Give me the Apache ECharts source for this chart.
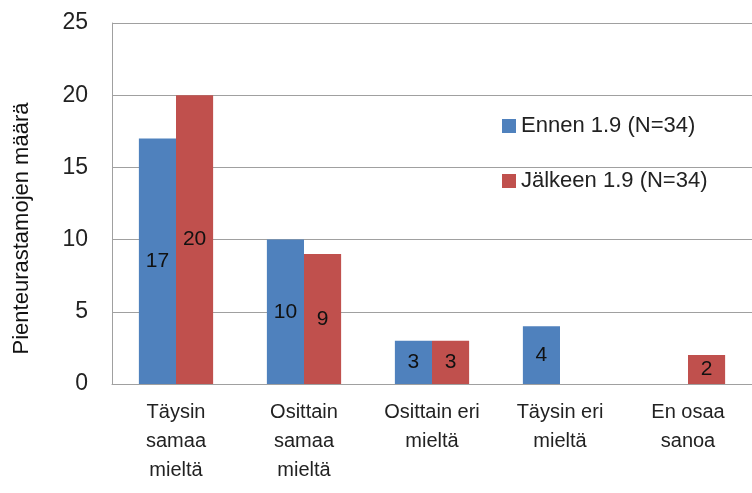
<!DOCTYPE html>
<html>
<head>
<meta charset="utf-8">
<script src="https://cdn.jsdelivr.net/npm/echarts@6/dist/echarts.min.js"></script>
<style>
  html, body { margin: 0; padding: 0; background: #fff; }
  #chart { width: 752px; height: 493px; }
</style>
</head>
<body>
<div id="chart"></div>
<script>
// kategoriat ja arvot
var categories = ['Täysin\nsamaa\nmieltä', 'Osittain\nsamaa\nmieltä', 'Osittain eri\nmieltä', 'Täysin eri\nmieltä', 'En osaa\nsanoa'];
var ennen = [17, 10, 3, 4, 0];
var jalkeen = [20, 9, 3, 0, 2];
var seriesNames = ['Ennen 1.9 (N=34)', 'Jälkeen 1.9 (N=34)'];
var yTicks = { min: 0, max: 25, interval: 5 };

var font = "'Liberation Sans', 'DejaVu Sans', sans-serif";

function initChart() {
    var chart = echarts.init(document.getElementById('chart'));

    var barLabel = {
        show: true,
        position: 'inside',
        color: '#111',
        fontSize: 21,
        fontFamily: font,
        formatter: function (p) { return p.value ? p.value : ''; }
    };

    var option = {
        animation: false,
        backgroundColor: '#fff',
        grid: { left: 112, right: 0, top: 23, bottom: 109 },
        legend: {
            orient: 'vertical',
            left: 497,
            top: 110,
            itemGap: 33,
            itemWidth: 14,
            itemHeight: 14,
            icon: 'rect',
            textStyle: { fontSize: 22, color: '#222', fontFamily: font },
            data: seriesNames
        },
        xAxis: {
            type: 'category',
            data: categories,
            axisLine: { lineStyle: { color: '#a0a0a0' } },
            axisTick: { show: false },
            axisLabel: {
                interval: 0,
                margin: 14,
                fontSize: 20,
                lineHeight: 29,
                color: '#222',
                fontFamily: font
            }
        },
        yAxis: {
            type: 'value',
            min: yTicks.min,
            max: yTicks.max,
            interval: yTicks.interval,
            name: 'Pienteurastamojen määrä',
            nameLocation: 'middle',
            nameGap: 79,
            nameTextStyle: { fontSize: 22, color: '#111', fontFamily: font, padding: [0, 50, 0, 0] },
            axisLine: { show: true, lineStyle: { color: '#a0a0a0' } },
            axisTick: { show: false },
            axisLabel: { fontSize: 23, color: '#222', margin: 24, fontFamily: font },
            splitLine: { lineStyle: { color: '#a0a0a0' } }
        },
        series: [
            {
                name: seriesNames[0],
                type: 'bar',
                data: ennen,
                barGap: 0,
                barCategoryGap: '42%',
                itemStyle: { color: '#4f81bd' },
                label: barLabel
            },
            {
                name: seriesNames[1],
                type: 'bar',
                data: jalkeen,
                barGap: 0,
                barCategoryGap: '42%',
                itemStyle: { color: '#c0504d' },
                label: barLabel
            }
        ]
    };

    chart.setOption(option);
}

initChart();
</script>
</body>
</html>
